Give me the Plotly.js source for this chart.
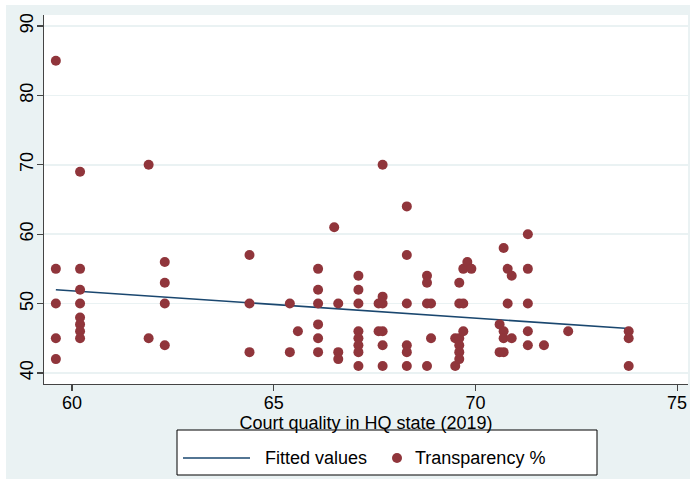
<!DOCTYPE html>
<html><head><meta charset="utf-8">
<script src="https://cdn.plot.ly/plotly-3.0.1.min.js"></script>
<style>
html,body{margin:0;padding:0;background:#ffffff;}
#chart{position:absolute;left:6px;top:5px;width:684px;height:474px;}
</style>
</head><body><div id="chart"></div>
<script>
// ---- data ----
const courtQuality = [
  59.6,59.6,59.6,59.6,59.6,
  60.2,60.2,60.2,60.2,60.2,60.2,60.2,60.2,
  61.9,61.9,
  62.3,62.3,62.3,62.3,
  64.4,64.4,64.4,
  65.4,65.4,
  65.6,
  66.1,66.1,66.1,66.1,66.1,66.1,
  66.5,
  66.6,66.6,66.6,
  67.1,67.1,67.1,67.1,67.1,67.1,67.1,67.1,
  67.6,67.6,
  67.7,67.7,67.7,67.7,67.7,67.7,
  68.3,68.3,68.3,68.3,68.3,68.3,
  68.8,68.8,68.8,68.8,
  68.9,68.9,
  69.5,69.5,
  69.6,69.6,69.6,69.6,69.6,69.6,
  69.7,69.7,69.7,
  69.8,
  69.9,
  70.6,70.6,
  70.7,70.7,70.7,70.7,
  70.8,70.8,
  70.9,70.9,
  71.3,71.3,71.3,71.3,71.3,
  71.7,
  72.3,
  73.8,73.8,73.8
];
const transparency = [
  85,55,50,45,42,
  69,55,52,50,48,47,46,45,
  70,45,
  56,53,50,44,
  57,50,43,
  50,43,
  46,
  55,52,50,47,45,43,
  61,
  50,43,42,
  54,52,50,46,45,44,43,41,
  50,46,
  70,51,50,46,44,41,
  64,57,50,44,43,41,
  54,53,50,41,
  50,45,
  45,41,
  53,50,45,44,43,42,
  55,50,46,
  56,
  55,
  47,43,
  58,46,45,43,
  55,50,
  54,45,
  60,55,50,46,44,
  44,
  46,
  46,45,41
];
const fitX = [59.6, 73.8];
const fitY = [52.0, 46.4];
const xTicks = [60, 65, 70, 75];
const yTicks = [40, 50, 60, 70, 80, 90];
const seriesNames = ['Fitted values', 'Transparency %'];
const xTitle = 'Court quality in HQ state (2019)';

// ---- layout helpers ----
const W = 684, H = 474, mL = 38, mR = 2, mT = 10, mB = 95;
const pw = W - mL - mR, ph = H - mT - mB;
const px = x => (x - mL) / pw;          // div pixel -> paper x
const py = y => (H - mB - y) / ph;      // div pixel -> paper y

const NAVY = '#1A476F', MAROON = '#90353B', BG = '#EAF2F3', AX = '#444444';
const FONT = 'Liberation Sans, Arial, sans-serif';

const traces = [
  {x: fitX, y: fitY, type: 'scatter', mode: 'lines', name: seriesNames[0],
   line: {color: NAVY, width: 1.6}, hoverinfo: 'skip'},
  {x: courtQuality, y: transparency, type: 'scatter', mode: 'markers', name: seriesNames[1],
   marker: {color: MAROON, size: 10, line: {width: 0}}}
];

// custom legend (Stata style)
const box = {x0: 171, x1: 591, y0: 425, y1: 470};
const ly = 453;
const shapes = [
  {type: 'rect', xref: 'paper', yref: 'paper', x0: px(box.x0), x1: px(box.x1),
   y0: py(box.y1), y1: py(box.y0), fillcolor: '#ffffff', line: {color: '#000000', width: 1}},
  {type: 'line', xref: 'paper', yref: 'paper', x0: px(177), x1: px(244), y0: py(ly), y1: py(ly),
   line: {color: NAVY, width: 1.6}},
  {type: 'circle', xref: 'paper', yref: 'paper', x0: px(386), x1: px(396), y0: py(ly + 5), y1: py(ly - 5),
   fillcolor: MAROON, line: {width: 0}}
];
const annotations = [
  {xref: 'paper', yref: 'paper', x: px(257), y: py(ly), text: seriesNames[0], showarrow: false,
   xanchor: 'left', yanchor: 'middle', font: {family: FONT, size: 18, color: '#000'}},
  {xref: 'paper', yref: 'paper', x: px(407), y: py(ly), text: seriesNames[1], showarrow: false,
   xanchor: 'left', yanchor: 'middle', font: {family: FONT, size: 18, color: '#000'}}
];

const layout = {
  width: W, height: H,
  margin: {l: mL, r: mR, t: mT, b: mB, pad: 0},
  paper_bgcolor: BG, plot_bgcolor: '#ffffff',
  showlegend: false,
  font: {family: FONT, size: 18, color: '#000'},
  xaxis: {
    range: [59.306, 75.27], tickvals: xTicks, ticktext: xTicks.map(String),
    showgrid: false, zeroline: false, showline: true, linecolor: AX, linewidth: 1.2,
    ticks: 'outside', ticklen: 6, tickwidth: 1.2, tickcolor: AX,
    ticklabelstandoff: -4,
    tickfont: {family: FONT, size: 18, color: '#000'},
    title: {text: xTitle, standoff: 1, font: {family: FONT, size: 18, color: '#000'}}
  },
  yaxis: {
    range: [38.41, 91.58], tickvals: yTicks, ticktext: yTicks.map(String),
    showgrid: true, gridcolor: BG, gridwidth: 1.5, zeroline: false,
    showline: true, linecolor: AX, linewidth: 1.2,
    ticks: 'outside', ticklen: 6, tickwidth: 1.2, tickcolor: AX, tickangle: -90,
    ticklabelstandoff: -3,
    tickfont: {family: FONT, size: 18, color: '#000'}
  },
  shapes: shapes, annotations: annotations
};

Plotly.newPlot('chart', traces, layout, {displayModeBar: false, staticPlot: true});
</script>
</body></html>
